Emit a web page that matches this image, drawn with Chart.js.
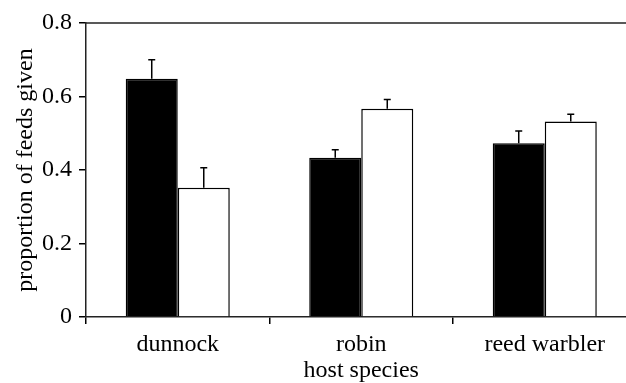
<!DOCTYPE html>
<html>
<head>
<meta charset="utf-8">
<script src="https://cdn.jsdelivr.net/npm/chart.js@4/dist/chart.umd.min.js"></script>
<style>
  html, body { margin: 0; padding: 0; background: #fff; overflow: hidden; }
  #wrap { position: relative; width: 660px; height: 383px; }
</style>
</head>
<body>
<div id="wrap"><canvas id="c"></canvas></div>
<script>
const categories = ["dunnock", "robin", "reed warbler"];
const blackValues = [0.648, 0.433, 0.473];
const blackErrTop = [0.700, 0.455, 0.506];
const whiteValues = [0.352, 0.567, 0.532];
const whiteErrTop = [0.406, 0.592, 0.552];
const yTickValues = [0, 0.2, 0.4, 0.6, 0.8];
const yTickLabels = ["0", "0.2", "0.4", "0.6", "0.8"];

const FAMILY = "'Liberation Serif', 'Times New Roman', Times, serif";
const FONT = { family: FAMILY, size: 24 };

const errorBarPlugin = {
  id: 'errorBars',
  afterDatasetsDraw(chart) {
    const ctx = chart.ctx;
    const yScale = chart.scales.y;
    const errs = [blackErrTop, whiteErrTop];
    ctx.save();
    ctx.strokeStyle = '#000';
    ctx.lineWidth = 1.5;
    chart.data.datasets.forEach((ds, di) => {
      const meta = chart.getDatasetMeta(di);
      meta.data.forEach((bar, i) => {
        const x = bar.x;
        const yTop = yScale.getPixelForValue(errs[di][i]);
        const yBar = bar.y;
        ctx.beginPath();
        ctx.moveTo(x, yBar);
        ctx.lineTo(x, yTop);
        ctx.moveTo(x - 3.5, yTop);
        ctx.lineTo(x + 3.5, yTop);
        ctx.stroke();
      });
    });
    const a = chart.chartArea;
    ctx.strokeStyle = '#222';
    ctx.lineWidth = 1.5;
    ctx.beginPath();
    ctx.moveTo(a.left, a.top);
    ctx.lineTo(a.right, a.top);
    ctx.stroke();
    ctx.restore();
  }
};

new Chart(document.getElementById('c'), {
  type: 'bar',
  data: {
    labels: categories,
    datasets: [
      { data: blackValues, backgroundColor: '#000', borderColor: '#000', borderWidth: 1.5,
        categoryPercentage: 0.567, barPercentage: 1.0 },
      { data: whiteValues, backgroundColor: '#fff', borderColor: '#000', borderWidth: 1.5,
        categoryPercentage: 0.567, barPercentage: 1.0 }
    ]
  },
  options: {
    responsive: true,
    maintainAspectRatio: false,
    animation: false,
    events: [],
    layout: { padding: { top: 23, right: 23.5, bottom: 0, left: 0 } },
    plugins: { legend: { display: false }, tooltip: { enabled: false } },
    scales: {
      x: {
        offset: true,
        grid: { display: true, offset: true, drawOnChartArea: false, drawTicks: true, tickLength: 7, color: '#000', lineWidth: 1.5 },
        border: { display: true, color: '#222', width: 1.5 },
        ticks: { color: '#000', font: FONT, padding: 6, maxRotation: 0 },
        title: { display: true, text: 'host species', color: '#000', font: { family: FAMILY, size: 24, lineHeight: 1.0 }, padding: { top: 0, bottom: 0 } },
        afterFit(s) { s.height = 66; }
      },
      y: {
        min: 0, max: 0.8,
        afterBuildTicks(s) { s.ticks = yTickValues.map(v => ({ value: v })); },
        grid: { display: true, drawOnChartArea: false, drawTicks: true, tickLength: 7, color: '#000', lineWidth: 1.5 },
        border: { display: true, color: '#222', width: 1.5 },
        ticks: { color: '#000', font: FONT, padding: 7,
          callback: (v) => yTickLabels[yTickValues.findIndex(t => Math.abs(t - v) < 1e-6)] },
        title: { display: true, text: 'proportion of feeds given', color: '#000', font: { family: FAMILY, size: 24, lineHeight: 1.2 }, padding: { top: 11, bottom: 0 } },
        afterFit(s) { s.width = 86; }
      }
    }
  },
  plugins: [errorBarPlugin]
});
</script>
</body>
</html>
